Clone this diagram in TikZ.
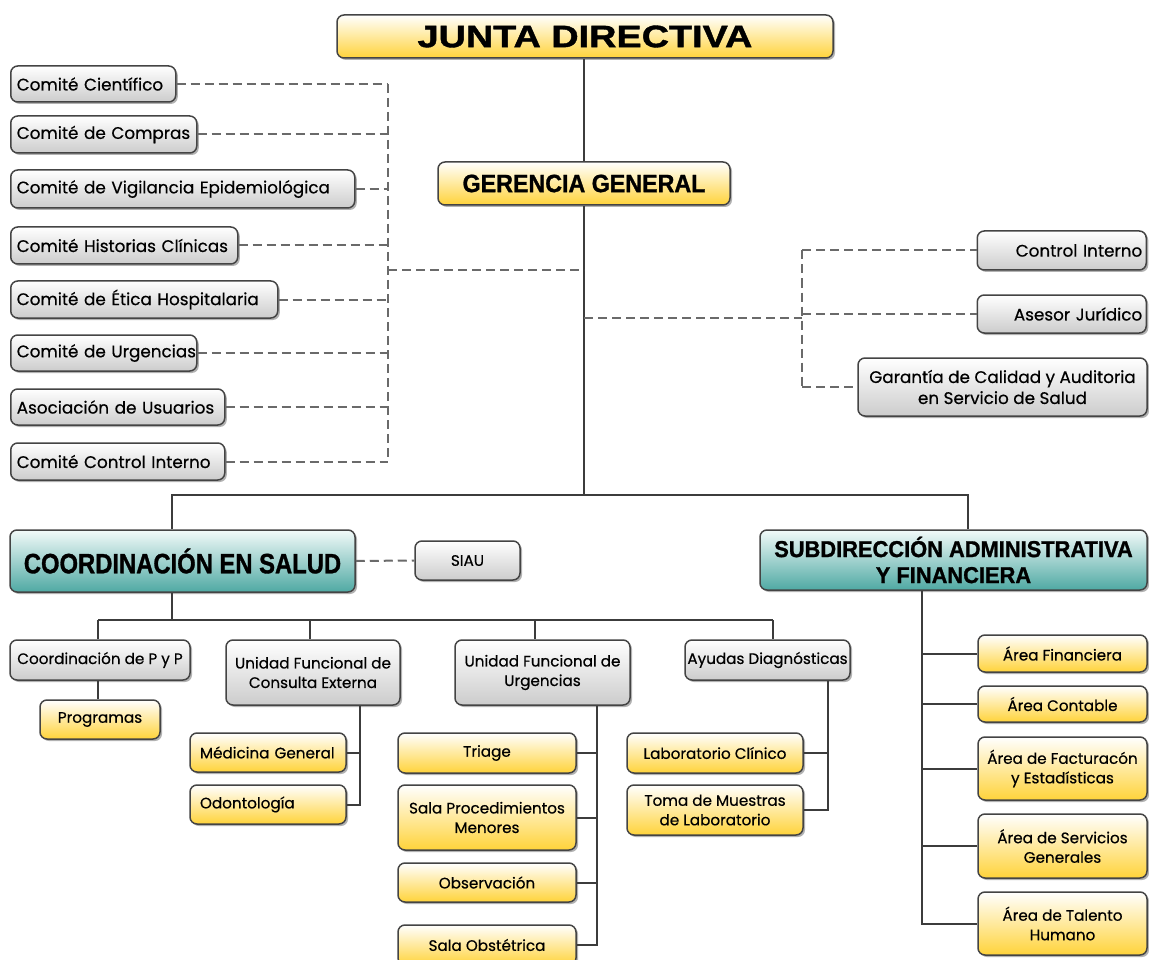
\documentclass[tikz,border=0pt]{standalone}
\usepackage{fontspec}
\usepackage{graphicx}
\setmainfont{Poppins}[FakeBold=0.5]
\newfontfamily\hfont{Liberation Sans}[BoldFeatures={FakeBold=1.2}]
\usetikzlibrary{shadows}
\definecolor{ytop}{HTML}{FFD33A}
\definecolor{gtop}{HTML}{CCCCCC}
\definecolor{ttop}{HTML}{4FA9A3}
\definecolor{tbot}{HTML}{F2FAF9}
\definecolor{bord}{HTML}{444444}
\definecolor{linec}{HTML}{3C3C3C}
\definecolor{dashc}{HTML}{6A6A6A}
\newcommand\hsc[2]{\scalebox{#1}[1]{#2}}
\begin{document}
\begin{tikzpicture}[x=1pt,y=-1pt,
  box/.style={draw=bord, line width=1.5pt, rounded corners=7pt,
    drop shadow={shadow xshift=2pt,shadow yshift=-2pt,fill=black!60},
    inner sep=0pt, align=center, font=\fontsize{15.2}{19.5}\selectfont},
  ybox/.style={box, bottom color=ytop, top color=white},
  gbox/.style={box, bottom color=gtop, top color=white},
  tbox/.style={box, bottom color=ttop, top color=tbot},
  bigf/.style={font=\fontsize{16.8}{21}\selectfont},
  lbox/.style={gbox, align=left, inner xsep=6pt, anchor=west, bigf},
  rbox/.style={gbox, align=right, inner xsep=4pt, anchor=east, bigf},
  ylbox/.style={ybox, align=left, inner xsep=10pt},
  sz/.style 2 args={minimum width=#1pt, minimum height=#2pt},
  conn/.style={draw=linec, line width=2pt},
  dconn/.style={draw=dashc, line width=2pt, dash pattern=on 9pt off 5pt}
]
\fill[white] (0,0) rectangle (1149,960);
\useasboundingbox (0,0) rectangle (1149,960);

% top
\node[ybox, sz={496}{43}, font=\hfont\bfseries\fontsize{31}{31}\selectfont] (jd) at (585,36.5) {\hsc{1.22}{JUNTA DIRECTIVA}};
\node[ybox, sz={292}{43}, font=\hfont\bfseries\fontsize{25}{25}\selectfont] (gg) at (584,183.5) {\hsc{0.93}{GERENCIA GENERAL}};

% committees
\node[lbox, text width=153pt, minimum height=36pt] (c1) at (10,84) {\mbox{Comité Científico}};
\node[lbox, text width=174pt, minimum height=37pt] (c2) at (10,134.5) {\mbox{Comité de Compras}};
\node[lbox, text width=332pt, minimum height=38pt] (c3) at (10,189) {\mbox{Comité de Vigilancia Epidemiológica}};
\node[lbox, text width=215pt, minimum height=37pt] (c4) at (10,245.5) {\mbox{Comité Historias Clínicas}};
\node[lbox, text width=255pt, minimum height=37pt] (c5) at (10,299.5) {\mbox{Comité de Ética Hospitalaria}};
\node[lbox, text width=174pt, minimum height=36pt] (c6) at (10,353) {\mbox{Comité de Urgencias}};
\node[lbox, text width=202pt, minimum height=36pt] (c7) at (10,407) {\mbox{Asociación de Usuarios}};
\node[lbox, text width=202pt, minimum height=37pt] (c8) at (10,461.5) {\mbox{Comité Control Interno}};

% staff right
\node[rbox, text width=161pt, minimum height=39pt] (r1) at (1147,250.5) {\mbox{Control Interno}};
\node[rbox, text width=161pt, minimum height=38pt] (r2) at (1147,314) {\mbox{Asesor Jurídico}};
\node[gbox, sz={289}{58}, bigf] (r3) at (1002.5,387) {Garantía de Calidad y Auditoria\\en Servicio de Salud};

% level 2
\node[tbox, sz={345}{62}, font=\hfont\bfseries\fontsize{28}{28}\selectfont] (cs) at (182.5,561) {\hsc{0.85}{COORDINACIÓN EN SALUD}};
\node[gbox, sz={105}{39}] (siau) at (467.5,560.5) {SIAU};
\node[tbox, sz={387}{60}, font=\hfont\bfseries\fontsize{23}{26}\selectfont] (sd) at (953.5,560) {\hsc{0.95}{SUBDIRECCIÓN ADMINISTRATIVA}\\\hsc{0.95}{Y FINANCIERA}};

% coordinacion children
\node[gbox, sz={180}{40}] (pp) at (100,660) {Coordinación de P y P};
\node[ybox, sz={120}{39}] (prog) at (100,719.5) {Programas};
\node[gbox, sz={174}{65}] (ce) at (313,672.5) {Unidad Funcional de\\Consulta Externa};
\node[ylbox, text width=136pt, minimum height=39pt] (mg) at (268,752.5) {\mbox{Médicina General}};
\node[ylbox, text width=136pt, minimum height=39pt] (od) at (268,804.5) {\mbox{Odontología}};
\node[gbox, sz={175}{65}] (ur) at (542.5,672.5) {Unidad Funcional de\\Urgencias};
\node[ybox, sz={178}{40}] (tr) at (487,753) {Triage};
\node[ybox, sz={178}{65}] (sp) at (487,817.5) {Sala Procedimientos\\Menores};
\node[ybox, sz={178}{39}] (ob) at (487,882.5) {Observación};
\node[ybox, sz={178}{40}] (so) at (487,945) {Sala Obstétrica};
\node[gbox, sz={165}{40}] (ay) at (767.5,660) {Ayudas Diagnósticas};
\node[ybox, sz={176}{40}] (lc) at (715,753) {Laboratorio Clínico};
\node[ybox, sz={176}{50}] (tm) at (715,810) {Toma de Muestras\\de Laboratorio};

% subdireccion children
\node[ybox, sz={169}{37}] (a1) at (1062.5,653.5) {Área Financiera};
\node[ybox, sz={169}{36}] (a2) at (1062.5,704) {Área Contable};
\node[ybox, sz={169}{63}] (a3) at (1062.5,768.5) {Área de Facturacón\\y Estadísticas};
\node[ybox, sz={169}{64}] (a4) at (1062.5,846) {Área de Servicios\\Generales};
\node[ybox, sz={169}{63}] (a5) at (1062.5,923.5) {Área de Talento\\Humano};

% ---- connectors ----
\draw[conn] (gg.north |- jd.south) -- (gg.north);
\coordinate (hub) at (584,495);
\draw[conn] (gg.south) -- (hub);

\coordinate (lb) at (388,270);
\foreach \n in {c1,c2,c3,c4,c5,c6,c7,c8} \draw[dconn] (\n.east) -- (\n.east -| lb);
\draw[dconn] (c1.east -| lb) -- (c8.east -| lb);
\draw[dconn] (lb) -- (lb -| gg.south);

\coordinate (rb) at (802,318);
\draw[dconn] (rb -| gg.south) -- (rb);
\draw[dconn] (r1.west -| rb) -- (r3.west -| rb);
\foreach \n in {r1,r2,r3} \draw[dconn] (\n.west -| rb) -- (\n.west);

\coordinate (hL) at (172,495);
\coordinate (hR) at (968,495);
\draw[conn] (hL |- cs.north) -- (hL) -- (hR) -- (hR |- sd.north);
\draw[dconn] (cs.east) -- (siau.west);

\coordinate (cb) at (172,620);
\draw[conn] (cb |- cs.south) -- (cb);
\coordinate (d1) at (98,620);
\coordinate (d2) at (310,620);
\coordinate (d3) at (535,620);
\coordinate (d4) at (773,620);
\draw[conn] (d1) -- (d4);
\draw[conn] (d1) -- (d1 |- pp.north);
\draw[conn] (d2) -- (d2 |- ce.north);
\draw[conn] (d3) -- (d3 |- ur.north);
\draw[conn] (d4) -- (d4 |- ay.north);
\draw[conn] (d1 |- pp.south) -- (d1 |- prog.north);

\coordinate (s1) at (360,0);
\draw[conn] (s1 |- ce.south) -- (s1 |- od.east) -- (od.east);
\draw[conn] (mg.east) -- (mg.east -| s1);

\coordinate (s2) at (597,0);
\draw[conn] (s2 |- ur.south) -- (s2 |- so.east) -- (so.east);
\foreach \n in {tr,sp,ob} \draw[conn] (\n.east) -- (\n.east -| s2);

\coordinate (s3) at (828,0);
\draw[conn] (s3 |- ay.south) -- (s3 |- tm.east) -- (tm.east);
\draw[conn] (lc.east) -- (lc.east -| s3);

\coordinate (s4) at (922,0);
\draw[conn] (s4 |- sd.south) -- (s4 |- a5.west) -- (a5.west);
\foreach \n in {a1,a2,a3,a4} \draw[conn] (\n.west -| s4) -- (\n.west);
\end{tikzpicture}
\end{document}
